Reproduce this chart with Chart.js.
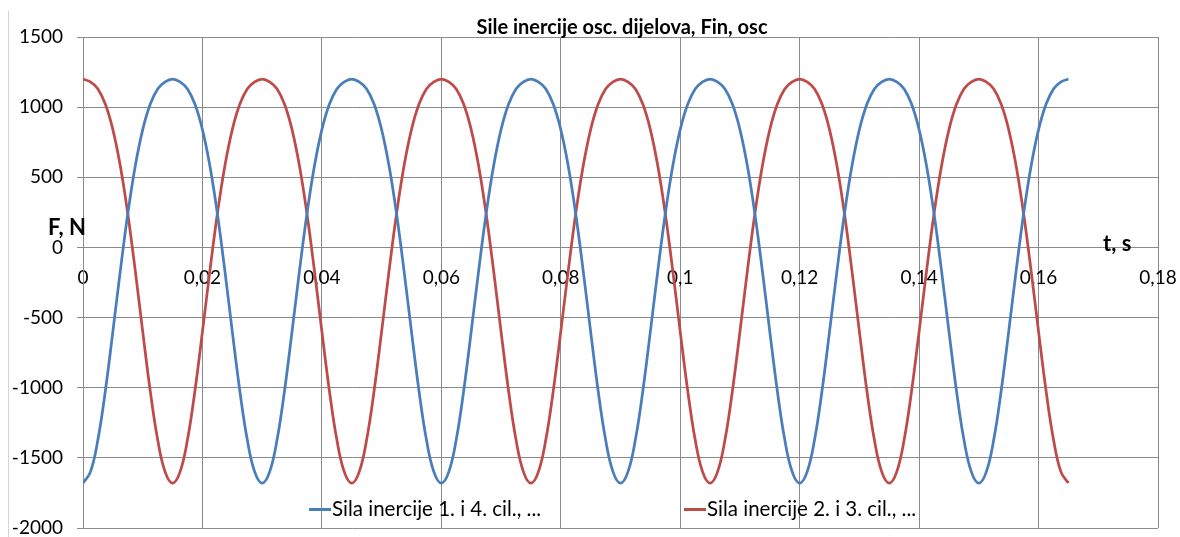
<!DOCTYPE html>
<html>
<head>
<meta charset="utf-8">
<script src="https://cdn.jsdelivr.net/npm/chart.js@4"></script>
<style>
  body { margin: 0; background: #fff; }
  #wrap { position: relative; width: 1180px; height: 537px; font-family: Lato, "Liberation Sans", sans-serif; color: #000; }
  #frame { position: absolute; left: 8px; top: 11px; width: 0; height: 526px; border-left: 1px solid #d4d4d4; }
  canvas { position: absolute; left: 0; top: 0; }
  .lbl { position: absolute; white-space: nowrap; line-height: 24px; }
  #title { left: 622px; top: 14px; transform: translateX(-50%); font-weight: bold; font-size: 20px; }
  #ytitle { left: 48px; top: 215px; font-weight: bold; font-size: 22px; }
  #xtitle { left: 1103px; top: 231px; font-weight: bold; font-size: 22px; }
  .leg { position: absolute; top: 496px; font-size: 20.5px; line-height: 24px; white-space: nowrap; }
  .leg i { display: inline-block; width: 22px; height: 3px; vertical-align: middle; margin-right: 1px; position: relative; top: -1px; }
</style>
</head>
<body>
<div id="wrap">
  <div id="frame"></div>
  <canvas id="c" width="1180" height="537"></canvas>
  <div class="lbl" id="title">Sile inercije osc. dijelova, Fin, osc</div>
  <div class="lbl" id="ytitle">F, N</div>
  <div class="lbl" id="xtitle">t, s</div>
  <div class="leg" id="leg1" style="left:309px"><i style="background:#4a7ebb"></i>Sila inercije 1. i 4. cil., ...</div>
  <div class="leg" id="leg2" style="left:684px"><i style="background:#be4b48"></i>Sila inercije 2. i 3. cil., ...</div>
</div>
<script>
// time step between samples, s
var dt = 0.00125;

// Sila inercije 1. i 4. cil. (N)
var sila14 = [
  -1680, -1600, -1370, -1020, -600, -165, 240, 580, 840, 1020, 1130, 1180, 1200, 1180, 1130, 1020, 840, 580, 240, -165, -600, -1020, -1370, -1600,
  -1680, -1600, -1370, -1020, -600, -165, 240, 580, 840, 1020, 1130, 1180, 1200, 1180, 1130, 1020, 840, 580, 240, -165, -600, -1020, -1370, -1600,
  -1680, -1600, -1370, -1020, -600, -165, 240, 580, 840, 1020, 1130, 1180, 1200, 1180, 1130, 1020, 840, 580, 240, -165, -600, -1020, -1370, -1600,
  -1680, -1600, -1370, -1020, -600, -165, 240, 580, 840, 1020, 1130, 1180, 1200, 1180, 1130, 1020, 840, 580, 240, -165, -600, -1020, -1370, -1600,
  -1680, -1600, -1370, -1020, -600, -165, 240, 580, 840, 1020, 1130, 1180, 1200, 1180, 1130, 1020, 840, 580, 240, -165, -600, -1020, -1370, -1600,
  -1680, -1600, -1370, -1020, -600, -165, 240, 580, 840, 1020, 1130, 1180, 1200
];

// Sila inercije 2. i 3. cil. (N)
var sila23 = [
  1200, 1180, 1130, 1020, 840, 580, 240, -165, -600, -1020, -1370, -1600, -1680, -1600, -1370, -1020, -600, -165, 240, 580, 840, 1020, 1130, 1180,
  1200, 1180, 1130, 1020, 840, 580, 240, -165, -600, -1020, -1370, -1600, -1680, -1600, -1370, -1020, -600, -165, 240, 580, 840, 1020, 1130, 1180,
  1200, 1180, 1130, 1020, 840, 580, 240, -165, -600, -1020, -1370, -1600, -1680, -1600, -1370, -1020, -600, -165, 240, 580, 840, 1020, 1130, 1180,
  1200, 1180, 1130, 1020, 840, 580, 240, -165, -600, -1020, -1370, -1600, -1680, -1600, -1370, -1020, -600, -165, 240, 580, 840, 1020, 1130, 1180,
  1200, 1180, 1130, 1020, 840, 580, 240, -165, -600, -1020, -1370, -1600, -1680, -1600, -1370, -1020, -600, -165, 240, 580, 840, 1020, 1130, 1180,
  1200, 1180, 1130, 1020, 840, 580, 240, -165, -600, -1020, -1370, -1600, -1680
];

var seriesNames = ['Sila inercije 1. i 4. cil., ...', 'Sila inercije 2. i 3. cil., ...'];
var xTicks = [0, 0.02, 0.04, 0.06, 0.08, 0.1, 0.12, 0.14, 0.16, 0.18];
var yTicks = [-2000, -1500, -1000, -500, 0, 500, 1000, 1500];

function toPoints(vals) {
  return vals.map(function (v, i) { return { x: i * dt, y: v }; });
}

var gridColor = '#8a8a8a';

function noPad(scale) {
  scale.paddingLeft = 0;
  scale.paddingRight = 0;
  scale.paddingTop = 0;
  scale.paddingBottom = 0;
}

var myChart = new Chart(document.getElementById('c'), {
  type: 'line',
  data: {
    datasets: [{
      label: seriesNames[0],
      data: toPoints(sila14),
      borderColor: '#4a7ebb',
      borderWidth: 2.75,
      pointRadius: 0,
      tension: 0.4
    }, {
      label: seriesNames[1],
      data: toPoints(sila23),
      borderColor: '#be4b48',
      borderWidth: 2.75,
      pointRadius: 0,
      tension: 0.4
    }]
  },
  options: {
    responsive: false,
    animation: false,
    devicePixelRatio: 1,
    layout: { padding: { left: 0, top: 37, right: 22, bottom: 9 } },
    plugins: {
      legend: { display: false },
      tooltip: { enabled: false }
    },
    scales: {
      x: {
        type: 'linear',
        position: { y: 0 },
        min: xTicks[0],
        max: xTicks[xTicks.length - 1],
        afterBuildTicks: function (scale) {
          scale.ticks = xTicks.map(function (v) { return { value: v }; });
        },
        afterFit: function (scale) { noPad(scale); },
        ticks: {
          color: '#000',
          padding: 19,
          maxRotation: 0,
          autoSkip: false,
          font: { family: 'Lato', size: 19 },
          callback: function (v) { return String(+v.toFixed(2)).replace('.', ','); }
        },
        grid: { color: gridColor, lineWidth: 1, drawTicks: false },
        border: { color: gridColor }
      },
      y: {
        min: yTicks[0],
        max: yTicks[yTicks.length - 1],
        afterBuildTicks: function (scale) {
          scale.ticks = yTicks.map(function (v) { return { value: v }; });
        },
        afterFit: function (scale) { scale.width = 83; noPad(scale); },
        ticks: {
          color: '#000',
          padding: 14,
          font: { family: 'Lato', size: 19 },
          callback: function (v) { return String(v); }
        },
        grid: { color: gridColor, lineWidth: 1, drawTicks: true, tickLength: 6 },
        border: { color: gridColor }
      }
    }
  }
});
</script>
</body>
</html>
